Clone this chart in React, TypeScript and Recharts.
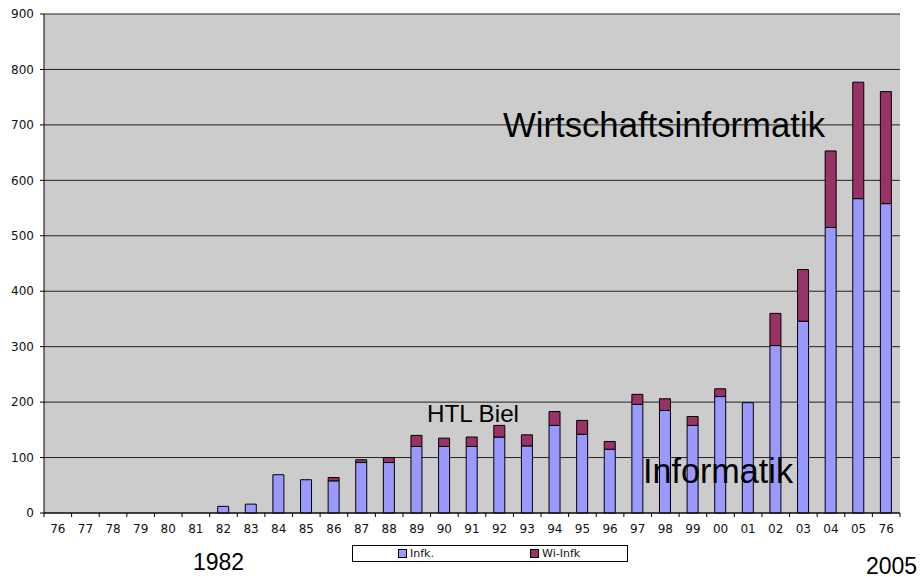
import React from 'react';
import { BarChart, Bar, XAxis, YAxis, CartesianGrid } from 'recharts';

// school years (the last "76" is the total column in the original)
const years = ['76', '77', '78', '79', '80', '81', '82', '83', '84', '85', '86', '87', '88', '89', '90', '91', '92', '93', '94', '95', '96', '97', '98', '99', '00', '01', '02', '03', '04', '05', '76'];
const infk = [0, 0, 0, 0, 0, 0, 12, 16, 69, 60, 58, 91, 91, 120, 120, 120, 137, 121, 158, 142, 115, 196, 185, 158, 210, 199, 302, 346, 515, 567, 558];
const wiInfk = [0, 0, 0, 0, 0, 0, 0, 0, 0, 0, 6, 5, 9, 20, 15, 17, 21, 20, 25, 25, 14, 18, 21, 16, 14, 0, 58, 93, 138, 210, 202];
const yTicks = [0, 100, 200, 300, 400, 500, 600, 700, 800, 900];

const data = years.map((y, i) => ({ year: y, infk: infk[i], wi: wiInfk[i] }));

const W = 921;
const H = 577;
const PLOT_LEFT = 44;
const PLOT_RIGHT = 900;
const TICK = 4;
const TICK_MARGIN = 7;
const tickFont = '"DejaVu Sans", Verdana, sans-serif';
const labelFont = '"Liberation Sans", Arial, Helvetica, sans-serif';

const XTick = (props: any) => {
  const { x, y, payload, index } = props;
  const step = (PLOT_RIGHT - PLOT_LEFT) / years.length;
  const axisY = y - TICK - TICK_MARGIN;
  return (
    <g>
      <line x1={x - step / 2} x2={x - step / 2} y1={axisY} y2={axisY + TICK} stroke="#000" />
      {index === years.length - 1 && (
        <line x1={x + step / 2} x2={x + step / 2} y1={axisY} y2={axisY + TICK} stroke="#000" />
      )}
      <text x={x} y={y} dy="0.71em" textAnchor="middle" fontSize={12} fontFamily={tickFont} fill="#111">
        {payload.value}
      </text>
    </g>
  );
};

export default function App() {
  return (
    <div style={{ position: 'relative', width: W, height: H, background: '#fff' }}>
      <style>{`body{margin:0;overflow:hidden}`}</style>
      <BarChart width={W} height={H} data={data} margin={{ top: 14, right: 21, left: 0, bottom: 34 }} barSize={11}>
        <CartesianGrid vertical={false} stroke="#222" fill="#cccccc" />
        <XAxis
          dataKey="year"
          height={30}
          tickLine={false}
          tickSize={TICK}
          tickMargin={TICK_MARGIN}
          axisLine={{ stroke: '#000' }}
          interval={0}
          tick={<XTick />}
        />
        <YAxis
          width={44}
          domain={[0, 900]}
          ticks={yTicks}
          tickSize={4}
          tickMargin={6}
          axisLine={{ stroke: '#000' }}
          tickLine={{ stroke: '#000' }}
          tick={{ fontSize: 12, fontFamily: tickFont, fill: '#111' }}
        />
        <YAxis yAxisId="r" orientation="right" width={0} tick={false} tickLine={false} axisLine={{ stroke: '#999' }} />
        <Bar dataKey="infk" stackId="a" fill="#9999ff" stroke="#000" strokeWidth={1} isAnimationActive={false} />
        <Bar dataKey="wi" stackId="a" fill="#993366" stroke="#000" strokeWidth={1} isAnimationActive={false} />
      </BarChart>

      {/* legend */}
      <div
        style={{
          position: 'absolute', left: 352, top: 545, width: 274, height: 15,
          border: '1px solid #000', background: '#fff',
          fontFamily: tickFont, fontSize: 11, color: '#111',
        }}
      >
        <span style={{ position: 'absolute', left: 45, top: 3, width: 7, height: 7, background: '#9999ff', border: '1px solid #000' }} />
        <span style={{ position: 'absolute', left: 57, top: 0, lineHeight: '15px' }}>Infk.</span>
        <span style={{ position: 'absolute', left: 177, top: 3, width: 7, height: 7, background: '#993366', border: '1px solid #000' }} />
        <span style={{ position: 'absolute', left: 189, top: 0, lineHeight: '15px' }}>Wi-Infk</span>
      </div>

      {/* annotations */}
      <svg width={W} height={H} style={{ position: 'absolute', left: 0, top: 0, pointerEvents: 'none' }}>
        <g fontFamily={labelFont} fill="#000">
          <text x={503} y={137} fontSize={35} textLength={322} lengthAdjust="spacingAndGlyphs">Wirtschaftsinformatik</text>
          <text x={427} y={421.5} fontSize={24} textLength={92} lengthAdjust="spacingAndGlyphs">HTL Biel</text>
          <text x={643} y={482.5} fontSize={35} textLength={150} lengthAdjust="spacingAndGlyphs">Informatik</text>
          <text x={193} y={569.5} fontSize={23}>1982</text>
          <text x={866} y={573.5} fontSize={23}>2005</text>
        </g>
      </svg>
    </div>
  );
}
